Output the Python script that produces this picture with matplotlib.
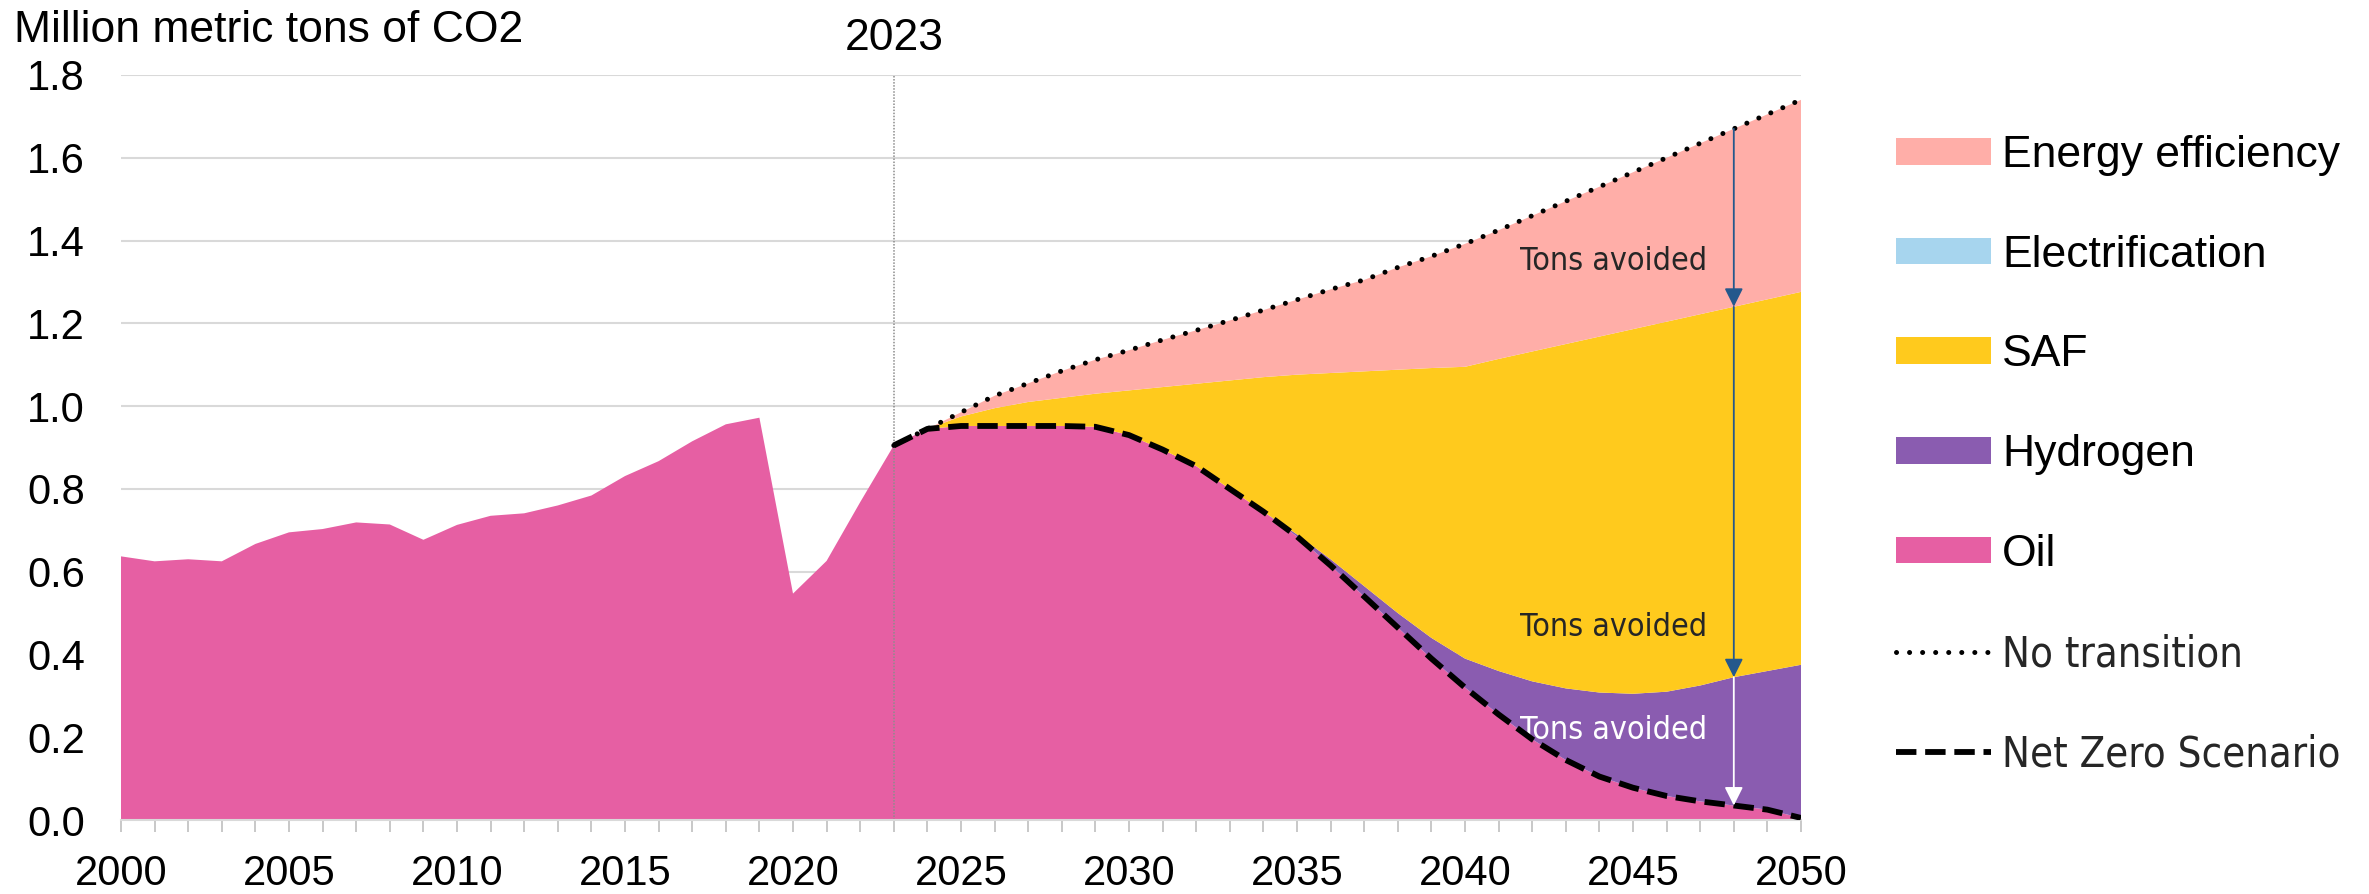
import numpy as np
import matplotlib.pyplot as plt
from matplotlib.patches import Patch
from matplotlib.lines import Line2D

plt.rcParams['font.family'] = ['Liberation Sans', 'DejaVu Sans']

# historical oil emissions, 2000-2022
hist_years = list(range(2000, 2023))
oil_hist = [0.637, 0.625, 0.630, 0.625, 0.667, 0.695, 0.703, 0.719, 0.714, 0.677,
            0.713, 0.735, 0.741, 0.760, 0.784, 0.831, 0.867, 0.915, 0.956, 0.972,
            0.547, 0.626, 0.768]

# Net Zero pathway by lever, 2023-2050
proj_years = list(range(2023, 2051))
oil_proj = [0.905, 0.945, 0.952, 0.952, 0.952, 0.952, 0.950, 0.930, 0.895, 0.855,
            0.800, 0.745, 0.685, 0.615, 0.540, 0.465, 0.390, 0.320, 0.255, 0.195,
            0.145, 0.105, 0.078, 0.058, 0.045, 0.035, 0.025, 0.005]
hydrogen = [0, 0, 0, 0, 0, 0, 0, 0, 0, 0,
            0, 0, 0.005, 0.015, 0.025, 0.035, 0.050, 0.070, 0.105, 0.140,
            0.173, 0.203, 0.227, 0.252, 0.280, 0.310, 0.335, 0.370]
saf = [0, 0, 0.023, 0.043, 0.058, 0.068, 0.080, 0.108, 0.151, 0.199,
       0.262, 0.325, 0.386, 0.450, 0.519, 0.588, 0.652, 0.705, 0.754, 0.797,
       0.832, 0.860, 0.881, 0.894, 0.897, 0.895, 0.898, 0.901]
electrification = [0] * 28
energy_efficiency = [0, 0, 0.010, 0.030, 0.045, 0.065, 0.082, 0.097, 0.114, 0.129,
                     0.145, 0.162, 0.181, 0.202, 0.221, 0.247, 0.270, 0.297, 0.311, 0.328,
                     0.345, 0.362, 0.379, 0.396, 0.413, 0.430, 0.447, 0.464]

labels = ['Oil', 'Hydrogen', 'SAF', 'Electrification', 'Energy efficiency']
colors = ['#E65FA3', '#8A5CB0', '#FFCA1D', '#A7D5EE', '#FFAEA8']
arrow_year = 2048

years = hist_years + proj_years
pad = [0] * len(hist_years)
layers = [oil_hist + oil_proj, pad + hydrogen, pad + saf, pad + electrification, pad + energy_efficiency]

dot_style = dict(color='black', lw=3.6, ls=(0, (0.01, 2.6)), dash_capstyle='round')
dash_style = dict(color='black', lw=4.2, ls=(0, (3.5, 1.5)))

fig = plt.figure(figsize=(23.69, 8.94), dpi=100)
ax = fig.add_axes([121 / 2369, 1 - 820 / 894, 1680 / 2369, 745 / 894])

ax.stackplot(years, layers, colors=colors, linewidth=0)

cum = np.cumsum(np.array([oil_proj, hydrogen, saf, electrification, energy_efficiency]), axis=0)
total = cum[-1]

ax.axvline(2023, color='#8C8C8C', lw=1.1, ls=(0, (1, 1)), zorder=2)

ax.plot(proj_years, total, zorder=4, **dot_style)
ax.plot(proj_years, oil_proj, zorder=4, **dash_style)

# arrows showing avoided emissions
i = proj_years.index(arrow_year)
levels = [total[i], cum[2][i], cum[1][i], cum[0][i]]
arrow_cols = ['#24588C', '#24588C', 'white']
for k in range(3):
    ax.annotate('', xy=(arrow_year, levels[k + 1]), xytext=(arrow_year, levels[k]),
                arrowprops=dict(arrowstyle='-|>', color=arrow_cols[k], lw=1.3,
                                mutation_scale=28, shrinkA=0, shrinkB=0), zorder=5)

txt_font = dict(family='DejaVu Sans', stretch='condensed', size=23)
ax.text(2047.2, 1.349, 'Tons avoided', ha='right', va='center', color='#262626', **txt_font)
ax.text(2047.2, 0.464, 'Tons avoided', ha='right', va='center', color='#262626', **txt_font)
ax.text(2047.2, 0.217, 'Tons avoided', ha='right', va='center', color='white', **txt_font)

ax.set_xlim(2000, 2050)
ax.set_ylim(0, 1.8)
ax.set_yticks(np.arange(0, 1.81, 0.2))
ax.set_yticklabels([f'{v:.1f}' for v in np.arange(0, 1.81, 0.2)])
ax.set_xticks(range(2000, 2051, 5))
ax.set_xticks(range(2000, 2051), minor=True)
ax.tick_params(axis='y', length=0, pad=26, labelsize=30)
ax.tick_params(axis='x', which='both', length=8.6, width=1.4, color='#C8C8C8',
               pad=16, labelsize=30)
ax.grid(axis='y', color='#D9D9D9', lw=1.5)
ax.set_axisbelow(True)
for s in ['top', 'left', 'right']:
    ax.spines[s].set_visible(False)
ax.spines['bottom'].set_color('#D9D9D9')
ax.spines['bottom'].set_linewidth(1.5)

ax.text(2023, 1.0336, '2023', transform=ax.get_xaxis_transform(), ha='center',
        va='baseline', fontsize=32)
fig.text(0.006, 1 - 41.7 / 894, 'Million metric tons of CO2', ha='left', va='baseline', fontsize=32)

handles = [Patch(facecolor=colors[4], label=labels[4]),
           Patch(facecolor=colors[3], label=labels[3]),
           Patch(facecolor=colors[2], label=labels[2]),
           Patch(facecolor=colors[1], label=labels[1]),
           Patch(facecolor=colors[0], label=labels[0]),
           Line2D([], [], label='No transition', **dot_style),
           Line2D([], [], label='Net Zero Scenario', **dash_style)]
leg = ax.legend(handles=handles, loc='upper left', bbox_to_anchor=(1896 / 2369, 1 - 135 / 894),
                bbox_transform=fig.transFigure, frameon=False, fontsize=32,
                handlelength=2.14, handleheight=0.55, handletextpad=0.25,
                labelspacing=1.32, borderpad=0, borderaxespad=0)
for t in leg.get_texts()[5:]:
    t.set_fontfamily('DejaVu Sans')
    t.set_fontstretch('condensed')
    t.set_fontsize(30)
    t.set_color('#262626')

fig.savefig('out.png', dpi=100)
